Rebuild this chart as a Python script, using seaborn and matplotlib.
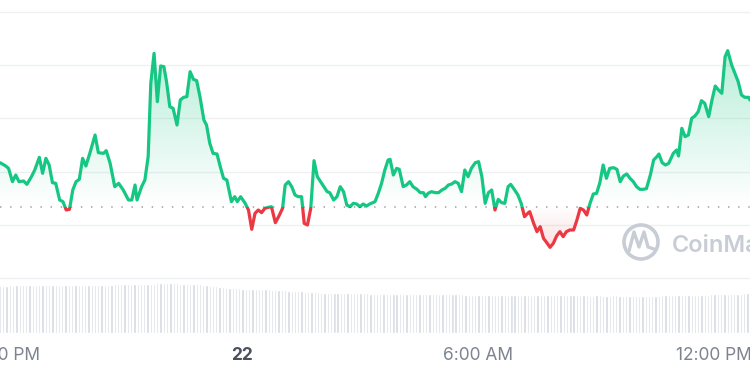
import numpy as np
import matplotlib
matplotlib.use("Agg")
import matplotlib.pyplot as plt
import seaborn as sns
import pandas as pd
from matplotlib.patches import Rectangle, Circle
from matplotlib.path import Path
from matplotlib.patches import PathPatch
from matplotlib.transforms import IdentityTransform
from matplotlib.colors import LinearSegmentedColormap

# minutes since 17:51 on the 21st, price
minutes = [0, 8, 13, 19, 24, 29, 36, 41, 48, 53, 60, 65, 70, 75, 80, 85, 91, 96, 101, 106,
           111, 116, 121, 126, 131, 137, 145, 150, 158, 162, 168, 175, 181, 188, 196, 201, 206, 209, 216, 221,
           226, 230, 235, 240, 245, 250, 254, 259, 264, 270, 275, 280, 285, 290, 295, 300, 305, 311, 315, 320,
           325, 331, 336, 341, 346, 353, 358, 362, 367, 374, 379, 384, 389, 394, 399, 404, 409, 414, 420, 425,
           431, 435, 440, 445, 450, 455, 460, 464, 469, 474, 479, 484, 489, 494, 499, 503, 509, 514, 519, 524,
           529, 534, 539, 544, 549, 554, 559, 564, 572, 577, 582, 587, 592, 595, 600, 605, 609, 615, 620, 625,
           630, 636, 641, 646, 649, 653, 658, 664, 669, 674, 679, 684, 689, 694, 699, 704, 709, 714, 719, 725,
           730, 735, 740, 745, 750, 755, 760, 765, 770, 775, 779, 785, 790, 795, 800, 805, 808, 814, 819, 824,
           829, 834, 839, 844, 849, 854, 859, 864, 869, 875, 880, 885, 890, 895, 900, 905, 910, 915, 920, 925,
           930, 936, 941, 946, 951, 956, 961, 966, 971, 976, 981, 986, 992, 997, 1002, 1005, 1010, 1015, 1020, 1027,
           1032, 1035, 1040, 1045, 1050, 1055, 1060, 1065, 1070, 1075, 1081, 1086, 1091, 1096, 1101, 1106, 1110, 1116, 1121, 1126,
           1131, 1136, 1142, 1144]
price = [0.412, 0.403, 0.395, 0.355, 0.375, 0.355, 0.357, 0.347, 0.370, 0.390, 0.428, 0.380, 0.425, 0.405, 0.352, 0.350, 0.300, 0.295, 0.270, 0.272,
         0.330, 0.355, 0.362, 0.425, 0.402, 0.440, 0.495, 0.442, 0.440, 0.448, 0.410, 0.340, 0.350, 0.330, 0.300, 0.300, 0.345, 0.300, 0.340, 0.360,
         0.430, 0.650, 0.740, 0.595, 0.702, 0.700, 0.655, 0.580, 0.575, 0.525, 0.600, 0.608, 0.610, 0.685, 0.662, 0.658, 0.610, 0.540, 0.525, 0.470,
         0.440, 0.438, 0.400, 0.365, 0.360, 0.295, 0.310, 0.295, 0.310, 0.290, 0.270, 0.212, 0.260, 0.270, 0.262, 0.275, 0.278, 0.280, 0.232, 0.250,
         0.275, 0.345, 0.355, 0.340, 0.315, 0.310, 0.310, 0.230, 0.225, 0.275, 0.418, 0.370, 0.355, 0.340, 0.325, 0.322, 0.300, 0.310, 0.340, 0.325,
         0.285, 0.280, 0.290, 0.288, 0.280, 0.288, 0.282, 0.288, 0.295, 0.320, 0.350, 0.390, 0.420, 0.422, 0.375, 0.395, 0.392, 0.340, 0.345, 0.355,
         0.340, 0.332, 0.322, 0.322, 0.310, 0.320, 0.325, 0.322, 0.322, 0.330, 0.335, 0.345, 0.348, 0.355, 0.350, 0.325, 0.390, 0.370, 0.395, 0.412,
         0.415, 0.370, 0.290, 0.322, 0.330, 0.270, 0.302, 0.292, 0.290, 0.340, 0.347, 0.330, 0.315, 0.290, 0.250, 0.260, 0.265, 0.230, 0.205, 0.220,
         0.185, 0.172, 0.158, 0.170, 0.192, 0.205, 0.190, 0.205, 0.210, 0.210, 0.240, 0.275, 0.270, 0.255, 0.290, 0.318, 0.320, 0.352, 0.405, 0.365,
         0.395, 0.397, 0.392, 0.355, 0.372, 0.378, 0.365, 0.355, 0.340, 0.332, 0.332, 0.334, 0.375, 0.420, 0.430, 0.438, 0.412, 0.405, 0.410, 0.440,
         0.450, 0.432, 0.515, 0.490, 0.495, 0.545, 0.552, 0.565, 0.598, 0.590, 0.550, 0.600, 0.642, 0.630, 0.620, 0.730, 0.748, 0.705, 0.680, 0.655,
         0.615, 0.608, 0.608, 0.600]
open_price = 0.280
grid_levels = [0.065, 0.225, 0.385, 0.545, 0.705, 0.865]

# 5-minute volume bars (millions)
volume = [47.4, 47.5, 47.5, 47.6, 47.5, 47.6, 47.7, 47.6, 47.7, 47.8, 47.7, 47.8, 47.8, 47.9, 47.8, 47.9, 48.0, 47.9, 48.0,
          48.0, 48.1, 48.0, 48.1, 48.2, 48.1, 48.2, 48.3, 48.2, 48.3, 48.4, 48.3, 48.4, 48.5, 48.4, 48.5, 48.6, 48.7, 48.8, 48.9, 49.0,
          49.1, 49.2, 49.2, 49.3, 49.4, 49.4, 49.5, 49.5, 49.6, 49.6, 49.6, 49.7, 49.7, 49.6, 49.6, 49.5, 49.5, 49.4, 49.3, 49.2, 49.0,
          48.6, 48.2, 47.8, 47.4, 47.0, 46.6, 46.2, 45.8, 45.5, 45.2, 45.0, 44.8, 44.6,
          44.5, 44.4, 44.3, 44.2, 44.1, 44.0, 43.9, 43.8, 43.6, 43.4, 43.2, 43.0, 42.8, 42.6, 42.4,
          42.2, 42.0, 41.8, 41.6, 41.4, 41.2, 41.0, 40.8, 40.6, 40.5, 40.4, 40.3,
          40.2, 40.1, 40.0, 40.0, 39.9, 39.9, 39.8, 39.8, 39.7, 39.7, 39.6, 39.6, 39.5, 39.5, 39.4, 39.4, 39.3, 39.3, 39.2, 39.2, 39.1, 39.1,
          39.0, 39.0, 39.0, 38.9, 38.9, 38.9, 38.9, 38.8, 38.8, 38.8, 38.8, 38.7, 38.7, 38.7, 38.7, 38.6, 38.6, 38.6, 38.6, 38.5,
          38.5, 38.5, 38.5, 38.5, 38.4, 38.4, 38.4, 38.4, 38.3, 38.3,
          38.3, 38.3, 38.2, 38.2, 38.2, 38.1, 38.1, 38.1, 38.0, 38.0, 38.0, 37.9, 37.9, 37.9, 37.8, 37.8, 37.8, 37.8,
          37.7, 37.7, 37.6, 37.6, 37.6, 37.7, 37.7, 37.6, 37.6, 37.5, 37.5, 37.6, 37.6, 37.5, 37.5, 37.5, 37.6, 37.6, 37.5, 37.5,
          37.5, 37.4, 37.4, 37.5, 37.5, 37.5, 37.4, 37.4, 37.4, 37.5, 37.5, 37.6, 37.6, 37.7, 37.7, 37.8, 37.8, 37.9, 37.9, 38.0,
          38.0, 38.1, 38.2,
          38.3, 38.4, 38.5, 38.6, 38.7, 38.8, 38.9, 39.0, 39.1, 39.2, 39.3, 39.4, 39.5, 39.6, 39.7]
vol_minutes = np.arange(len(volume)) * 5

tick_minutes = [9, 369, 729, 1089]
tick_labels = ["6:00 PM", "22", "6:00 AM", "12:00 PM"]

GREEN = "#16c784"
RED = "#ea3943"
X_MAX = 1144

sns.set_theme(style="white")
plt.rcParams["font.family"] = ["Inter", "DejaVu Sans"]

fig = plt.figure(figsize=(7.5, 3.75), dpi=100)
fig.patch.set_facecolor("white")

# price panel
ax = fig.add_axes([0, 1 - 280 / 375, 1, 280 / 375])
df = pd.DataFrame({"minutes": minutes, "price": price})

poly = ax.fill_between(df["minutes"], df["price"], open_price, facecolor="none", edgecolor="none")
clip = poly.get_paths()[0]

green_cmap = LinearSegmentedColormap.from_list("g", [(0.086, 0.78, 0.52, 0.0), (0.086, 0.78, 0.52, 0.30)])
red_cmap = LinearSegmentedColormap.from_list("r", [(0.92, 0.22, 0.26, 0.16), (0.92, 0.22, 0.26, 0.0)])
grad = np.linspace(0, 1, 256).reshape(-1, 1)
img_g = ax.imshow(grad, extent=[0, X_MAX, open_price, max(price)], origin="lower",
                  cmap=green_cmap, aspect="auto", zorder=1)
img_g.set_clip_path(clip, transform=ax.transData)
img_r = ax.imshow(grad, extent=[0, X_MAX, min(price), open_price], origin="lower",
                  cmap=red_cmap, aspect="auto", zorder=1)
img_r.set_clip_path(clip, transform=ax.transData)

sns.lineplot(data=df, x="minutes", y="price", color=GREEN, lw=2.3, ax=ax,
             estimator=None, sort=False, zorder=3)
sns.lineplot(data=df, x="minutes", y="price", color=RED, lw=2.3, ax=ax,
             estimator=None, sort=False, zorder=3)
up = Rectangle((-50, open_price), X_MAX + 100, 5, transform=ax.transData)
down = Rectangle((-50, -5), X_MAX + 100, open_price + 5, transform=ax.transData)
ax.lines[0].set_clip_path(up)
ax.lines[1].set_clip_path(down)

ax.axhline(open_price, color="#b4a9ae", lw=1.3, ls=(0, (0.8, 4.8)), zorder=2)

ax.set_xlim(0, X_MAX)
ax.set_ylim(0.06, 0.9)
ax.set_yticks(grid_levels)
ax.set_yticklabels([])
ax.set_xticks([])
ax.grid(axis="y", color="#eef0f3", lw=1)
ax.tick_params(length=0)
ax.set_xlabel("")
ax.set_ylabel("")
for s in ax.spines.values():
    s.set_visible(False)

# volume panel
vax = fig.add_axes([0, 1 - 333 / 375, 1, 55 / 375])
sns.barplot(x=vol_minutes, y=volume, native_scale=True, color="#d5dae2", saturation=1,
            width=0.7, errorbar=None, ax=vax)
vax.set_xlim(0, X_MAX)
vax.set_ylim(0, 55)
vax.set_yticks([])
vax.set_xticks(tick_minutes)
vax.set_xticklabels(tick_labels)
vax.tick_params(axis="x", length=0, pad=10, labelsize=12.5, labelcolor="#7d8390")
vax.get_xticklabels()[1].set_fontweight("bold")
vax.get_xticklabels()[1].set_color("#4a505c")
vax.set_xlabel("")
vax.set_ylabel("")
vax.patch.set_alpha(0)
for s in vax.spines.values():
    s.set_visible(False)

# CoinMarketCap watermark
wm = "#c8cdd5"
fig.add_artist(Circle((641, 375 - 242), 17, transform=IdentityTransform(), fill=False,
                      lw=2.6, ec=wm, zorder=5))
m_path = Path([(629, 124), (634, 143), (639, 128), (644, 143), (648, 128), (654, 126)])
fig.add_artist(PathPatch(m_path, transform=IdentityTransform(), fill=False, lw=2.4, ec=wm,
                         capstyle="round", joinstyle="round", zorder=5))
fig.text(672 / 750, 1 - 252 / 375, "CoinMarketCap", fontsize=17, color=wm,
         fontweight="semibold", ha="left", va="baseline")

fig.savefig("out.png", dpi=100, facecolor="white")
